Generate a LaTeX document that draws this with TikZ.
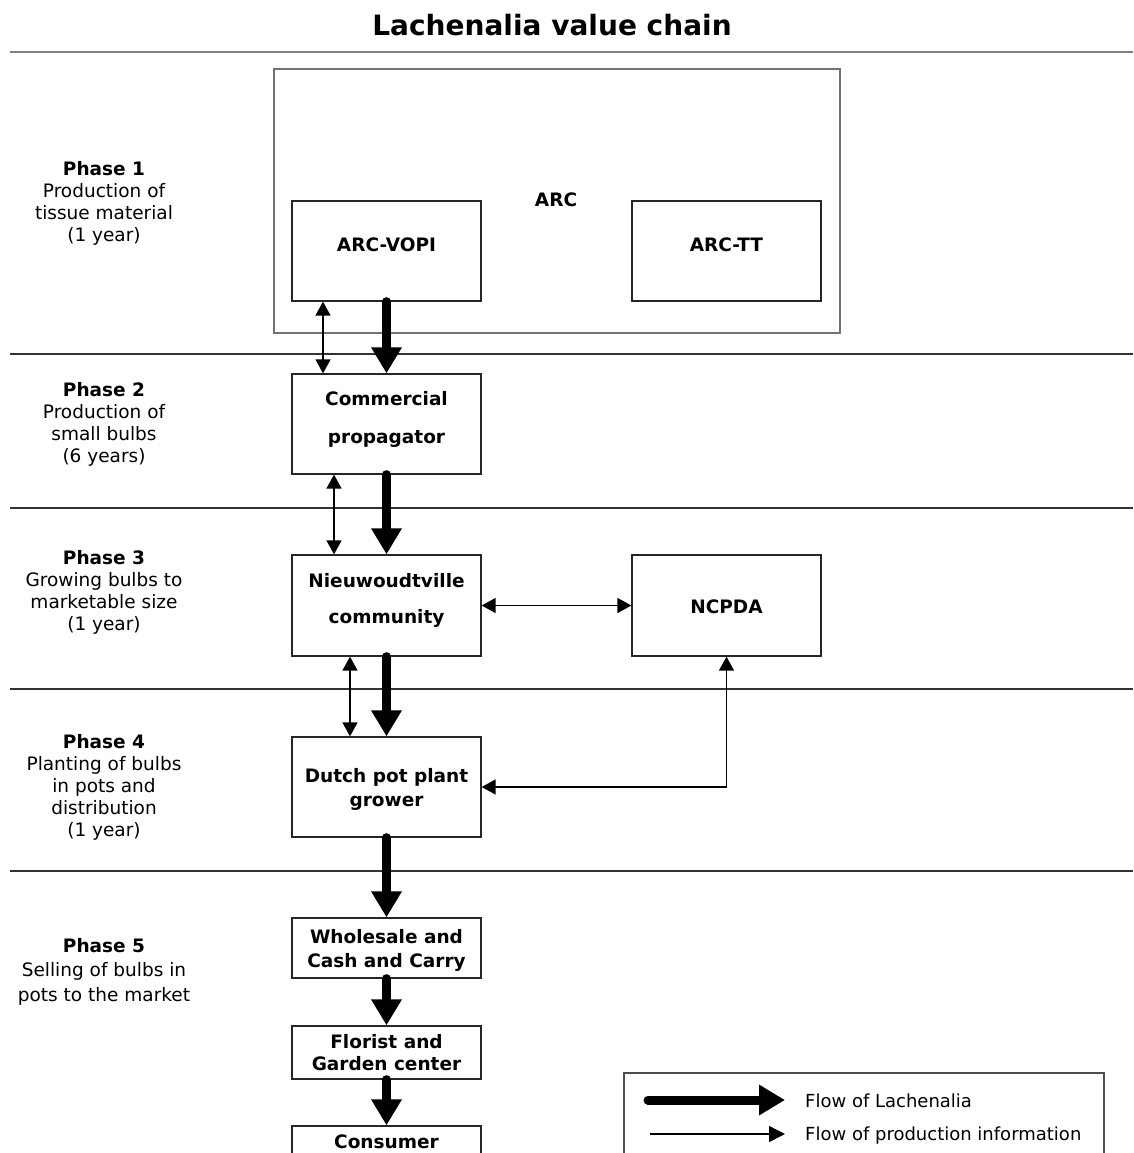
\documentclass[tikz,border=0pt]{standalone}
\usepackage{fontspec}
\setmainfont{DejaVu Sans}
\usetikzlibrary{arrows.meta}
\tikzset{
  frame/.style={draw=black!85, line width=1.3pt, fill=white, inner sep=0pt, minimum width=189pt},
  outer/.style={draw=black!55, line width=1.5pt, inner sep=0pt},
  lbl/.style={font=\bfseries\fontsize{18.5}{22}\selectfont, inner sep=0pt, anchor=base},
  phasetxt/.style={font=\fontsize{18.5}{22}\selectfont, align=center, inner sep=0pt, anchor=north},
  legtxt/.style={font=\fontsize{18}{22}\selectfont, inner sep=0pt, anchor=base west},
  sepline/.style={draw=black!80, line width=1.2pt},
  flow/.style={line width=9pt, line cap=round, -{Triangle[length=26pt,width=29pt]}},
  info/.style={line width=1.4pt, {Triangle[length=14pt,width=15pt]}-{Triangle[length=14pt,width=15pt]}},
  infoone/.style={line width=1.4pt, -{Triangle[length=16pt,width=16pt]}}
}
\begin{document}
\begin{tikzpicture}[x=1pt,y=-1pt]
\useasboundingbox (0,0) rectangle (1133,1153);
\clip (0,0) rectangle (1133,1153);
\fill[white] (0,0) rectangle (1133,1153);

% title
\node[font=\bfseries\fontsize{28}{32}\selectfont, inner sep=0pt, anchor=base] (title) at (552,36) {Lachenalia value chain};
\coordinate (t1) at (10,52);
\coordinate (t2) at (1133,52);
\draw[draw=black!50, line width=2.5pt] (t1) -- (t2);

% phase separators
\coordinate (s1a) at (10,354); \coordinate (s1b) at (1133,354);
\coordinate (s2a) at (10,508); \coordinate (s2b) at (1133,508);
\coordinate (s3a) at (10,689); \coordinate (s3b) at (1133,689);
\coordinate (s4a) at (10,871); \coordinate (s4b) at (1133,871);
\draw[sepline] (s1a) -- (s1b);
\draw[sepline] (s2a) -- (s2b);
\draw[sepline] (s3a) -- (s3b);
\draw[sepline] (s4a) -- (s4b);

% phase labels
\node[phasetxt] (p1) at (104,159.6) {\strut\textbf{Phase 1}\\Production of\\tissue material\\(1 year)};
\node[phasetxt] (p2) at (104,380.6) {\strut\textbf{Phase 2}\\Production of\\small bulbs\\(6 years)};
\node[phasetxt] (p3) at (104,548.6) {\strut\textbf{Phase 3}\\Growing bulbs to\\marketable size\\(1 year)};
\node[phasetxt] (p4) at (104,732.6) {\strut\textbf{Phase 4}\\Planting of bulbs\\in pots and\\distribution\\(1 year)};
\node[phasetxt, font=\fontsize{18.5}{24.5}\selectfont] (p5) at (104,934.8) {\strut\textbf{Phase 5}\\Selling of bulbs in\\pots to the market};

% ARC container
\node[outer, minimum width=566pt, minimum height=264pt] (arc) at (557,201) {};
\node[lbl] (arclbl) at (556,206) {ARC};

% boxes
\node[frame, minimum height=100pt] (vopi) at (386.5,251) {};
\node[lbl] (vopilbl) at (386.5,251) {ARC-VOPI};
\node[frame, minimum height=100pt] (tt) at (726.5,251) {};
\node[lbl] (ttlbl) at (726.5,251) {ARC-TT};

\node[frame, minimum height=100pt] (comm) at (386.5,424) {};
\node[lbl] (comml1) at (386.5,405) {Commercial};
\node[lbl] (comml2) at (386.5,443) {propagator};

\node[frame, minimum height=101pt] (nieuw) at (386.5,605.5) {};
\node[lbl] (nieuwl1) at (386.5,587) {Nieuwoudtville};
\node[lbl] (nieuwl2) at (386.5,623) {community};

\node[frame, minimum height=101pt] (ncpda) at (726.5,605.5) {};
\node[lbl] (ncpdal) at (726.5,613) {NCPDA};

\node[frame, minimum height=100pt] (dutch) at (386.5,787) {};
\node[lbl] (dutchl1) at (386.5,782) {Dutch pot plant};
\node[lbl] (dutchl2) at (386.5,806) {grower};

\node[frame, minimum height=60pt] (whole) at (386.5,948) {};
\node[lbl] (wholel1) at (386.5,943) {Wholesale and};
\node[lbl] (wholel2) at (386.5,967) {Cash and Carry};

\node[frame, minimum height=53pt] (flor) at (386.5,1052.5) {};
\node[lbl] (florl1) at (386.5,1048) {Florist and};
\node[lbl] (florl2) at (386.5,1070) {Garden center};

\node[frame, minimum height=50pt] (cons) at (386.5,1151) {};
\node[lbl] (consl) at (386.5,1148) {Consumer};

% thick flow arrows
\draw[flow] (vopi.south) -- (comm.north);
\draw[flow] (comm.south) -- (nieuw.north);
\draw[flow] (nieuw.south) -- (dutch.north);
\draw[flow] (dutch.south) -- (whole.north);
\draw[flow] (whole.south) -- (flor.north);
\draw[flow] (flor.south) -- (cons.north);

% information arrows
\coordinate (i1) at (323,0);
\coordinate (i2) at (334,0);
\coordinate (i3) at (350,0);
\draw[info] (vopi.south -| i1) -- (comm.north -| i1);
\draw[info] (comm.south -| i2) -- (nieuw.north -| i2);
\draw[info] (nieuw.south -| i3) -- (dutch.north -| i3);
\draw[info] (nieuw.east) -- (ncpda.west);
\draw[info] (ncpda.south) |- (dutch.east);

% legend
\node[draw=black!70, line width=1.3pt, inner sep=0pt, minimum width=480pt, minimum height=100pt] (legend) at (864,1123) {};
\coordinate (l1s) at (648,1100); \coordinate (l1e) at (785,1100);
\coordinate (l2s) at (650,1134); \coordinate (l2e) at (785,1134);
\draw[flow] (l1s) -- (l1e);
\draw[infoone] (l2s) -- (l2e);
\node[legtxt] (leg1) at (805,1107) {Flow of Lachenalia};
\node[legtxt] (leg2) at (805,1140) {Flow of production information};
\end{tikzpicture}
\end{document}
